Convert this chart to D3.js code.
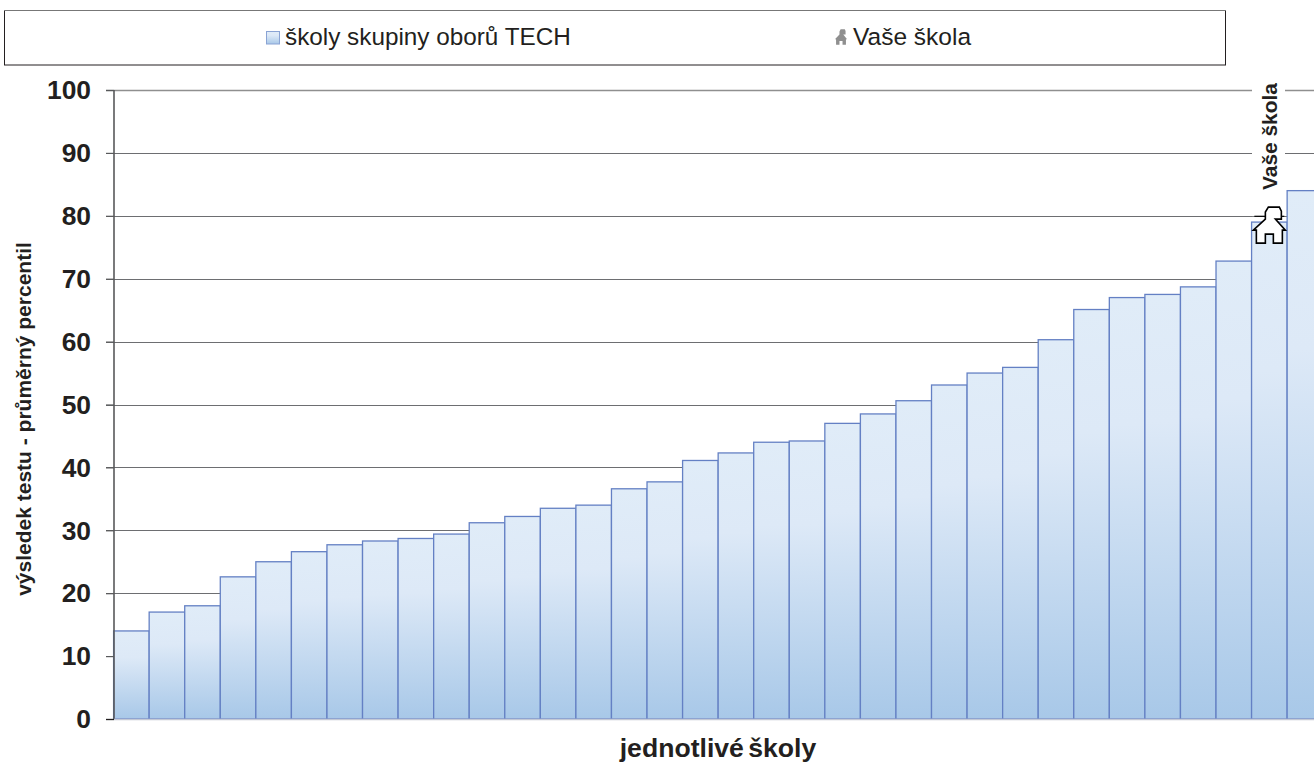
<!DOCTYPE html>
<html><head><meta charset="utf-8">
<script src="https://cdn.jsdelivr.net/npm/d3@7"></script>
<style>html,body{margin:0;padding:0;background:#fff;overflow:hidden}svg{display:block}text{font-family:"Liberation Sans",Arial,sans-serif;fill:#231f20}</style>
</head><body><svg id="c" width="1314" height="763"></svg>
<script>
const schools = d3.range(1, 35);
const scores = [14,17,18,22.6,25,26.6,27.7,28.3,28.7,29.4,31.2,32.2,33.5,34,36.6,37.7,41.1,42.3,44,44.2,47,48.5,50.6,53.1,55,55.9,60.3,65.1,67,67.5,68.7,72.8,79,84];
const yTicks = [0,10,20,30,40,50,60,70,80,90,100];
const yourSchool = 33;
const yourScore = 79;
const legendLabels = ["školy skupiny oborů TECH","Vaše škola"];
const yTitle = "výsledek testu - průměrný percentil";
const xTitle = "jednotlivé školy";

const svg = d3.select("#c");
const L = 114, T = 90, B = 719;
const x = d3.scaleBand().domain(schools).range([113.6, 1322.7]).padding(0);
const y = d3.scaleLinear().domain([0,100]).range([B,T]);

const defs = svg.append("defs");
const g = defs.append("linearGradient").attr("id","bar").attr("x1",0).attr("y1",0).attr("x2",0).attr("y2",1);
g.append("stop").attr("offset","0%").attr("stop-color","#e0ecf8");
g.append("stop").attr("offset","30%").attr("stop-color","#dde9f7");
g.append("stop").attr("offset","100%").attr("stop-color","#a8c8e8");

// legend
svg.append("rect").attr("x",4.5).attr("y",10.5).attr("width",1221).attr("height",54.5).attr("fill","#fff").attr("stroke","#231f20").attr("stroke-width",1);
svg.append("line").attr("x1",4).attr("x2",1226).attr("y1",10.5).attr("y2",10.5).attr("stroke","#777").attr("stroke-width",1);
svg.append("rect").attr("x",266.5).attr("y",31.5).attr("width",13).attr("height",12.5).attr("fill","url(#bar)").attr("stroke","#8aa3d4").attr("stroke-width",1);
svg.append("text").attr("x",285).attr("y",44.5).attr("font-size",24.3).text(legendLabels[0]);
svg.append("text").attr("x",853).attr("y",44.5).attr("font-size",24.5).text(legendLabels[1]);

const house = "M-16,4 L-4,-7 L-4,-14 L-1,-19 L10,-19 L12,-15 L12,-7 L6,-7 L16,4 L13,4 L13,17 L4,17 L4,8 L-4,8 L-4,17 L-13,17 L-13,4 Z";
svg.append("path").attr("d",house).attr("transform","translate(841,37.5) scale(0.38,0.43)").attr("fill","#8f8f8f");

// grid
svg.append("g").selectAll("line").data(yTicks.filter(d=>d>0)).join("line")
  .attr("x1",L-8).attr("x2",1314).attr("y1",d=>Math.round(y(d))+.5).attr("y2",d=>Math.round(y(d))+.5)
  .attr("stroke",d=>d===100?"#8f8f8f":"#6d6e71").attr("stroke-width",d=>d===100?1.6:1);

// label mask behind the rotated label
svg.append("rect").attr("x",1252).attr("y",T-12).attr("width",33).attr("height",y(yourScore)-T-2+8).attr("fill","#fff");

// bars
svg.append("g").selectAll("rect").data(schools).join("rect")
  .attr("x",d=>x(d)).attr("y",(d,i)=>y(scores[i])).attr("width",x.bandwidth()).attr("height",(d,i)=>B-y(scores[i]))
  .attr("fill","url(#bar)").attr("stroke","#6480c4").attr("stroke-width",1.3);

// axes
const axis = d3.axisLeft(y).tickValues(yTicks).tickSize(8).tickPadding(15);
const ax = svg.append("g").attr("transform",`translate(${L},0)`).call(axis);
ax.selectAll("path.domain").remove();
ax.selectAll("line").attr("stroke","#58595b").attr("stroke-width",1.2);
ax.selectAll("text").attr("font-size",26.4).attr("font-weight","bold").style("font-family",'"Liberation Sans",Arial,sans-serif').attr("fill","#231f20").attr("dy","0.33em");
svg.append("line").attr("x1",L).attr("x2",L).attr("y1",T).attr("y2",B).attr("stroke","#58595b").attr("stroke-width",1.6);
svg.append("line").attr("x1",L).attr("x2",1314).attr("y1",B+.5).attr("y2",B+.5).attr("stroke","#c4c8d4").attr("stroke-width",1.4);
svg.append("line").attr("x1",L-8).attr("x2",L).attr("y1",B+.5).attr("y2",B+.5).attr("stroke","#231f20").attr("stroke-width",1.2);

// titles
svg.append("text").attr("transform","translate(31,419) rotate(-90)").attr("text-anchor","middle").attr("font-size",21).attr("font-weight","bold").text(yTitle);
svg.append("text").attr("x",718).attr("y",757).attr("text-anchor","middle").attr("font-size",26.6).attr("font-weight","bold").attr("word-spacing","-3px").text(xTitle);

// marker & data label
const mx = x(yourSchool)+x.bandwidth()/2;
svg.append("line").attr("x1",mx-15).attr("x2",mx+15).attr("y1",y(80)+.5).attr("y2",y(80)+.5).attr("stroke","#000").attr("stroke-width",1.2);
svg.append("path").attr("d",house)
  .attr("transform",`translate(${mx},${y(yourScore)+4})`).attr("fill","#fff").attr("stroke","#000").attr("stroke-width",1.6);
svg.append("text").attr("transform",`translate(1277,190) rotate(-90)`).attr("font-size",20.9).attr("font-weight","bold").text(legendLabels[1]);
</script></body></html>
